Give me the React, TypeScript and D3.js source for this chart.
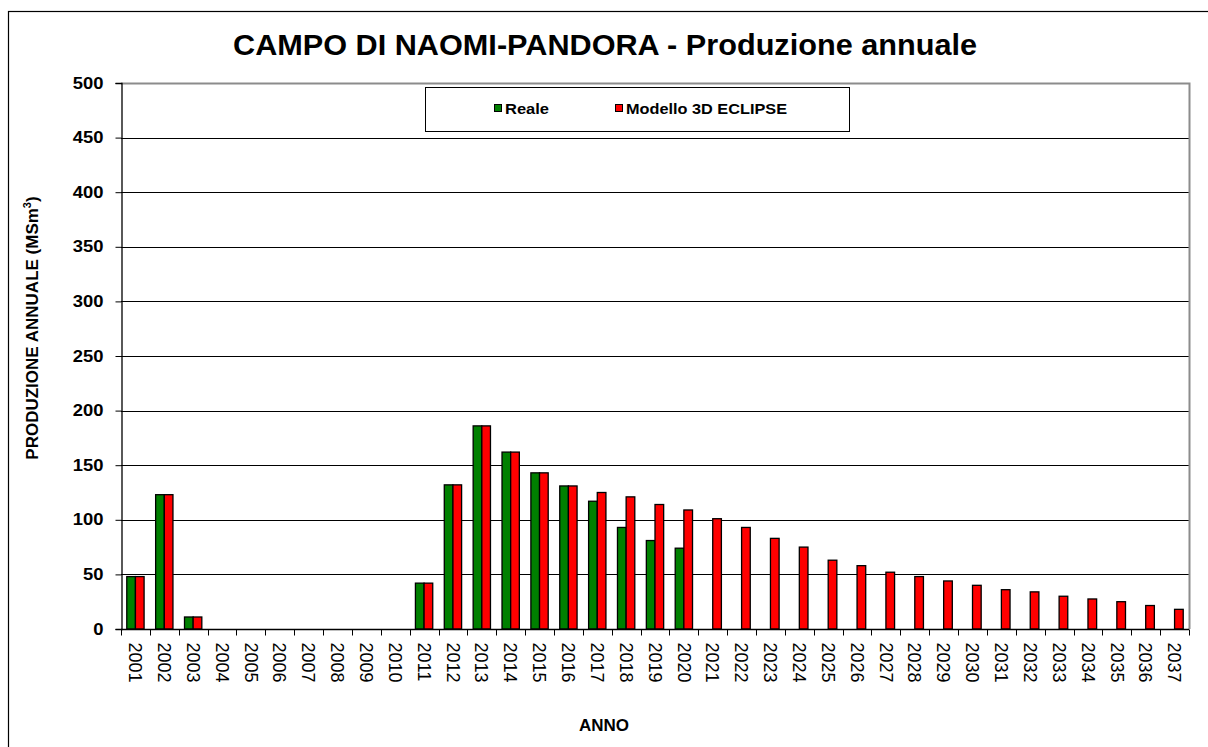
import React, { useEffect, useRef } from 'react';
import * as d3 from 'd3';

// chart data
const years = d3.range(2001, 2038).map(String);
const reale: (number | null)[] = [
  48, 123, 11, null, null, null, null, null, null, null,
  42, 132, 186, 162, 143, 131, 117, 93, 81, 74,
  null, null, null, null, null, null, null, null, null, null,
  null, null, null, null, null, null, null,
];
const modello: (number | null)[] = [
  48, 123, 11, null, null, null, null, null, null, null,
  42, 132, 186, 162, 143, 131, 125, 121, 114, 109,
  101, 93, 83, 75, 63, 58, 52, 48, 44, 40,
  36, 34, 30, 27.5, 25, 21.5, 18,
];
const seriesNames = ['Reale', 'Modello 3D ECLIPSE'];
const seriesColors = ['#008000', '#ff0000'];
const yTicks = [0, 50, 100, 150, 200, 250, 300, 350, 400, 450, 500];

const W = 1208;
const H = 747;
const margin = { top: 83, right: 19, bottom: 118, left: 121 };
const FONT = 'Arial, "Liberation Sans", sans-serif';

export default function App() {
  const ref = useRef<SVGSVGElement>(null);

  useEffect(() => {
    const svg = d3.select(ref.current);
    svg.selectAll('*').remove();

    const x0 = margin.left;
    const x1 = W - margin.right;
    const y0 = H - margin.bottom;
    const y1 = margin.top;

    // outer frame
    svg.append('rect')
      .attr('x', 8.5).attr('y', 11.5)
      .attr('width', W + 10).attr('height', H + 10)
      .attr('fill', 'white').attr('stroke', '#000').attr('stroke-width', 1.2);

    const x = d3.scaleBand().domain(years).range([x0, x1]).padding(0);
    const xs = d3.scaleBand().domain(seriesNames)
      .range([x.bandwidth() * 0.2, x.bandwidth() * 0.8]);
    const y = d3.scaleLinear().domain([0, 500]).range([y0, y1]);

    // gridlines
    svg.append('g')
      .selectAll('line')
      .data(yTicks.filter(d => d > 0 && d < 500))
      .enter()
      .append('line')
      .attr('x1', x0).attr('x2', x1)
      .attr('y1', d => Math.round(y(d)) + 0.5).attr('y2', d => Math.round(y(d)) + 0.5)
      .attr('stroke', '#000').attr('stroke-width', 1);

    // plot border top/right (gray)
    svg.append('path')
      .attr('d', `M${x0},${y1 + 0.5}H${x1 + 0.5}V${y0}`)
      .attr('fill', 'none').attr('stroke', '#8c8c8c').attr('stroke-width', 2);

    // bars
    const allSeries = [reale, modello];
    allSeries.forEach((vals, si) => {
      svg.append('g')
        .selectAll('rect')
        .data(vals.map((v, i) => ({ year: years[i], v })).filter(d => d.v != null))
        .enter()
        .append('rect')
        .attr('x', d => (x(d.year) as number) + (xs(seriesNames[si]) as number))
        .attr('width', xs.bandwidth())
        .attr('y', d => y(d.v as number))
        .attr('height', d => y0 - y(d.v as number))
        .attr('fill', seriesColors[si])
        .attr('stroke', '#000').attr('stroke-width', 1.3);
    });

    // y axis
    const yAxis = d3.axisLeft(y).tickValues(yTicks).tickSize(6).tickPadding(0);
    const yg = svg.append('g')
      .attr('transform', `translate(${x0 + 0.5},0)`)
      .call(yAxis);
    yg.select('.domain').attr('stroke', '#000').attr('stroke-width', 1.3);
    yg.selectAll('.tick line').attr('stroke', '#000');
    // slightly wide bold digits, as in the original
    yg.selectAll('.tick text')
      .attr('x', 0)
      .attr('transform', 'translate(-18,0) scale(1.15,1)')
      .attr('font-family', FONT).attr('font-size', 16).attr('font-weight', 'bold')
      .attr('fill', '#000');

    // x axis
    const xg = svg.append('g')
      .attr('transform', `translate(0,${y0 + 0.5})`);
    xg.append('line')
      .attr('x1', x0).attr('x2', x1)
      .attr('stroke', '#000').attr('stroke-width', 1.3);
    xg.selectAll('line.tk')
      .data(years.concat(['end']))
      .enter()
      .append('line')
      .attr('class', 'tk')
      .attr('x1', (d, i) => Math.round(x0 + i * x.bandwidth()) + 0.5)
      .attr('x2', (d, i) => Math.round(x0 + i * x.bandwidth()) + 0.5)
      .attr('y1', 0).attr('y2', 6)
      .attr('stroke', '#000');
    xg.selectAll('text')
      .data(years)
      .enter()
      .append('text')
      .attr('transform', d => `translate(${(x(d) as number) + x.bandwidth() / 2},13) rotate(90)`)
      .attr('dy', '0.35em')
      .attr('font-family', FONT).attr('font-size', 18)
      .attr('fill', '#000')
      .text(d => d);

    // title
    svg.append('text')
      .attr('x', 605).attr('y', 55)
      .attr('text-anchor', 'middle')
      .attr('font-family', FONT).attr('font-size', 29).attr('font-weight', 'bold')
      .attr('textLength', 744).attr('lengthAdjust', 'spacingAndGlyphs')
      .text('CAMPO DI NAOMI-PANDORA - Produzione annuale');

    // axis titles
    svg.append('text')
      .attr('x', 604).attr('y', 731)
      .attr('text-anchor', 'middle')
      .attr('font-family', FONT).attr('font-size', 17).attr('font-weight', 'bold')
      .text('ANNO');

    const yt = svg.append('text')
      .attr('transform', 'translate(38,328) rotate(-90)')
      .attr('text-anchor', 'middle')
      .attr('font-family', FONT).attr('font-size', 17).attr('font-weight', 'bold');
    yt.append('tspan').text('PRODUZIONE  ANNUALE (MSm');
    yt.append('tspan').attr('font-size', 11).attr('dy', -7).text('3');
    yt.append('tspan').attr('dy', 7).text(')');

    // legend
    const lg = svg.append('g');
    lg.append('rect')
      .attr('x', 425.5).attr('y', 87.5).attr('width', 424).attr('height', 44)
      .attr('fill', 'white').attr('stroke', '#000').attr('stroke-width', 1);
    const legendX = [494, 615];
    const legendLen = [44, 161];
    seriesNames.forEach((name, i) => {
      lg.append('rect')
        .attr('x', legendX[i] + 0.5).attr('y', 104.5).attr('width', 7).attr('height', 7)
        .attr('fill', seriesColors[i]).attr('stroke', '#000');
      lg.append('text')
        .attr('x', legendX[i] + 11).attr('y', 113.5)
        .attr('font-family', FONT).attr('font-size', 15).attr('font-weight', 'bold')
        .attr('textLength', legendLen[i]).attr('lengthAdjust', 'spacingAndGlyphs')
        .text(name);
    });
  }, []);

  return (
    <svg
      ref={ref}
      width={W}
      height={H}
      style={{ position: 'absolute', left: 0, top: 0, background: '#fff' }}
    />
  );
}
